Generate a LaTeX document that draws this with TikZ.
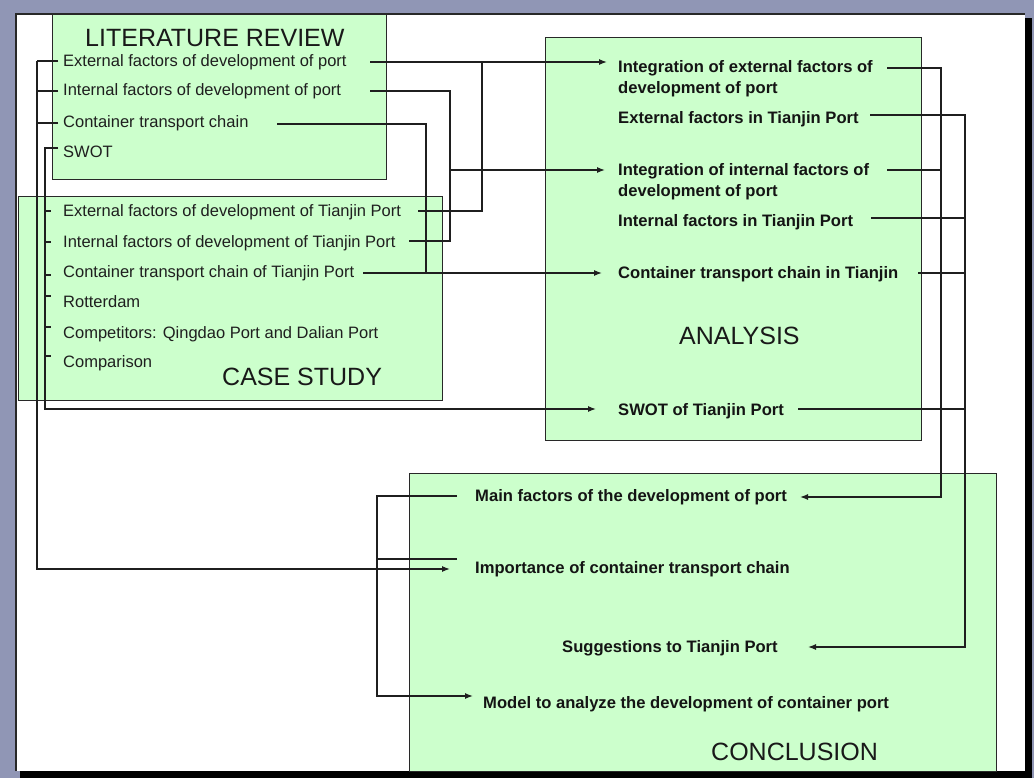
\documentclass[tikz,border=0pt]{standalone}
\usepackage{fontspec}
\setmainfont{Liberation Sans}
\usetikzlibrary{arrows.meta}
\definecolor{bggray}{RGB}{144,150,181}
\definecolor{boxgreen}{RGB}{204,255,204}
\definecolor{edgecol}{RGB}{40,40,40}
\begin{document}
\begin{tikzpicture}[x=1pt,y=-1pt,
  panel/.style={draw=edgecol, line width=1.2pt, fill=boxgreen, anchor=north west, inner sep=0pt},
  item/.style={anchor=base west, inner sep=0pt, font=\fontsize{16.5}{20}\selectfont, text=black!88},
  bitem/.style={anchor=base west, inner sep=0pt, align=left, font=\fontsize{16.6}{21}\selectfont\bfseries, text=black!92},
  heading/.style={anchor=base west, inner sep=0pt, font=\fontsize{25}{30}\selectfont, text=black!90},
  wire/.style={line width=1.3pt, draw=black!88},
  arr/.style={wire, -{Latex[length=8pt,width=6pt]}},
]
\useasboundingbox (0,0) rectangle (1034,778);
% page frame
\fill[bggray] (0,0) rectangle (1034,778);
\fill[black] (20,18) rectangle (1032,778);
\fill[white] (16,14) rectangle (1025,771);
\draw[edgecol, line width=1.2pt] (16,771) -- (16,14) -- (1025,14);

% panels
\node[panel, minimum width=334pt, minimum height=165pt] (lit) at (52,14) {};
\node[panel, minimum width=424pt, minimum height=204pt] (case) at (18,196) {};
\node[panel, minimum width=376pt, minimum height=403pt] (ana) at (545,37) {};
\node[panel, minimum width=587pt, minimum height=298pt] (conc) at (409,473) {};

% literature review
\node[heading] (litT) at (85,47) {LITERATURE REVIEW};
\node[item] (litExt) at (63,67) {External factors of development of port};
\node[item] (litInt) at (63,96) {Internal factors of development of port};
\node[item] (litCon) at (63,128) {Container transport chain};
\node[item] (litSwot) at (63,158) {SWOT};

% case study
\node[item] (csExt) at (63,217) {External factors of development of Tianjin Port};
\node[item] (csInt) at (63,248) {Internal factors of development of Tianjin Port};
\node[item] (csCon) at (63,278) {Container transport chain of Tianjin Port};
\node[item] (csRot) at (63,308) {Rotterdam};
\node[item] (csComp) at (63,338) {Competitors: Qingdao Port and Dalian Port};
\node[item] (csCmp) at (63,367) {Comparison};
\node[heading] (csT) at (222,385) {CASE STUDY};

% analysis (base anchor = baseline of the last line)
\node[bitem] (aIntExt) at (618,94) {Integration of external factors of\\development of port};
\node[bitem] (aExtT) at (618,124) {External factors in Tianjin Port};
\node[bitem] (aIntInt) at (618,197) {Integration of internal factors of\\development of port};
\node[bitem] (aIntT) at (618,227) {Internal factors in Tianjin Port};
\node[bitem] (aCon) at (618,279) {Container transport chain in Tianjin};
\node[heading] (aT) at (679,344) {ANALYSIS};
\node[bitem] (aSwot) at (618,415) {SWOT of Tianjin Port};

% conclusion
\node[bitem] (cMain) at (475,501) {Main factors of the development of port};
\node[bitem] (cImp) at (475,573) {Importance of container transport chain};
\node[bitem] (cSug) at (562,652) {Suggestions to Tianjin Port};
\node[bitem] (cMod) at (483,708) {Model to analyze the development of container port};
\node[heading] (cT) at (711,760) {CONCLUSION};

% connector ports
\coordinate (litExtL) at (58,61);   \coordinate (litExtR) at (370,62);
\coordinate (litIntL) at (58,91);   \coordinate (litIntR) at (370,91);
\coordinate (litConL) at (58,123);  \coordinate (litConR) at (277,124);
\coordinate (litSwotL) at (58,148);
\coordinate (csExtR) at (418,211);
\coordinate (csIntR) at (409,241);
\coordinate (csConR) at (363,273);
\coordinate (aIntExtIn) at (607,62);
\coordinate (aIntIntIn) at (605,170);
\coordinate (aConIn) at (602,273);
\coordinate (aSwotIn) at (596,409);
\coordinate (aIntExtR) at (887,68);
\coordinate (aExtTR) at (870,115);
\coordinate (aIntIntR) at (887,170);
\coordinate (aIntTR) at (871,218);
\coordinate (aConR) at (918,273);
\coordinate (aSwotR) at (798,409);
\coordinate (cMainIn) at (800,497);
\coordinate (cSugIn) at (808,647);
\coordinate (cImpIn) at (450,569);
\coordinate (cModIn) at (473,696);
\coordinate (cMainL) at (457,496);
\coordinate (cImpL) at (457,559);
% bus coordinates
\coordinate (busA) at (37,0);
\coordinate (busB) at (45,0);
\coordinate (busExt) at (482,0);
\coordinate (busInt) at (450,0);
\coordinate (busCon) at (426,0);
\coordinate (busR1) at (941,0);
\coordinate (busR2) at (965,0);
\coordinate (busC) at (377,0);

% literature -> conclusion (left bus)
\draw[wire] (litExtL) -- (litExtL -| busA);
\draw[wire] (litIntL) -- (litIntL -| busA);
\draw[wire] (litConL) -- (litConL -| busA);
\draw[arr] (litExtL -| busA) |- (cImpIn);

% SWOT bus
\draw[arr] (litSwotL) -- (litSwotL -| busB) |- (aSwotIn);
\foreach \yy in {211,242,275,296,327,356}
  \draw[wire] (45,\yy) -- (51,\yy);

% external factors
\draw[arr] (litExtR) -- (aIntExtIn);
\draw[wire] (csExtR) -| (litExtR -| busExt);

% internal factors
\draw[wire] (litIntR) -| (csIntR -| busInt) -- (csIntR);
\draw[arr] (aIntIntIn -| busInt) -- (aIntIntIn);

% container chain
\draw[wire] (litConR) -| (csConR -| busCon);
\draw[arr] (csConR) -- (aConIn);

% analysis -> conclusion
\draw[arr] (aIntExtR) -| (cMainIn -| busR1) -- (cMainIn);
\draw[wire] (aIntIntR) -- (aIntIntR -| busR1);
\draw[arr] (aExtTR) -| (cSugIn -| busR2) -- (cSugIn);
\draw[wire] (aIntTR) -- (aIntTR -| busR2);
\draw[wire] (aConR) -- (aConR -| busR2);
\draw[wire] (aSwotR) -- (aSwotR -| busR2);

% conclusion internal
\draw[arr] (cMainL) -- (cMainL -| busC) |- (cModIn);
\draw[wire] (cImpL) -- (cImpL -| busC);
\end{tikzpicture}
\end{document}
